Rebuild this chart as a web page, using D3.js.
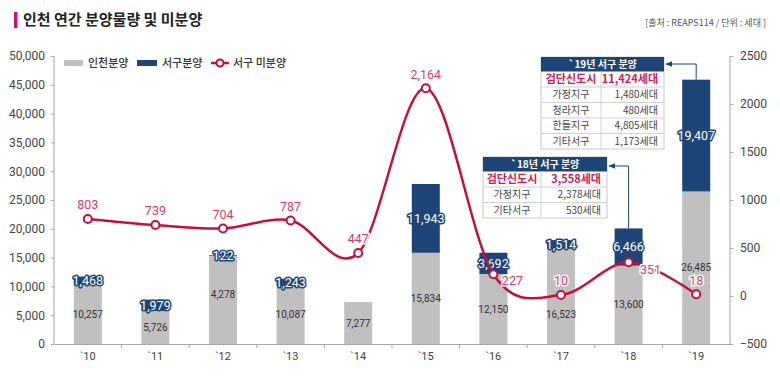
<!DOCTYPE html>
<html><head><meta charset="utf-8">
<script src="https://cdn.jsdelivr.net/npm/d3@7/dist/d3.min.js"></script>
<style>
html,body{margin:0;padding:0;background:#fff;}
svg{display:block;font-family:"Noto Sans CJK KR","Noto Sans",sans-serif;}
</style></head>
<body><svg id="c" width="780" height="376"></svg>
<script>
const years = ["`10","`11","`12","`13","`14","`15","`16","`17","`18","`19"];
const incheon = [10257, 5726, 15278, 10087, 7277, 15834, 12150, 16523, 13600, 26485];
const incheonLabels = ["10,257","5,726","4,278","10,087","7,277","15,834","12,150","16,523","13,600","26,485"];
const seogu = [1468, 1979, 122, 1243, 0, 11943, 3692, 1514, 6466, 19407];
const unsold = [803, 739, 704, 787, 447, 2164, 227, 10, 351, 18];
const leftTicks = [0,5000,10000,15000,20000,25000,30000,35000,40000,45000,50000];
const rightTicks = [-500,0,500,1000,1500,2000,2500];
const table19Title = "`19년 서구 분양";
const table19Rows = [["검단신도시","11,424세대"],["가정지구","1,480세대"],["청라지구","480세대"],["한들지구","4,805세대"],["기타서구","1,173세대"]];
const table18Title = "`18년 서구 분양";
const table18Rows = [["검단신도시","3,558세대"],["가정지구","2,378세대"],["기타서구","530세대"]];

const GRAY="#c0c0c0", NAVY="#1f4578", RED="#c5103c", LRED="#d23c66";
const svg = d3.select("#c");
const L=54, R=730, T=56, B=344;
const x = d3.scaleBand().domain(years).range([L,R]);
const y = d3.scaleLinear().domain([0,50000]).range([B,T]);
const y2 = d3.scaleLinear().domain([-500,2500]).range([B,T]);
const bw = 28;

// title
svg.append("rect").attr("x",14).attr("y",12).attr("width",3.5).attr("height",16).attr("fill","#c7147f");
svg.append("text").attr("x",23).attr("y",25).attr("font-size",15).attr("font-weight","bold").attr("fill","#222").text("인천 연간 분양물량 및 미분양");
svg.append("text").attr("x",766).attr("y",26).attr("text-anchor","end").attr("font-size",9).attr("fill","#555").text("[출처 : REAPS114 / 단위 : 세대 ]");

// axes
const axCol="#a6a6a6";
const gl = svg.append("g").attr("transform",`translate(${L},0)`).call(d3.axisLeft(y).tickValues(leftTicks).tickSize(3).tickFormat(d3.format(",")));
const gr = svg.append("g").attr("transform",`translate(${R},0)`).call(d3.axisRight(y2).tickValues(rightTicks).tickSize(3).tickFormat(d=>d<0?"−"+Math.abs(d):d));
const gb = svg.append("g").attr("transform",`translate(0,${B})`).call(d3.axisBottom(x).tickSize(0).tickPadding(8));
[gl,gr,gb].forEach(g=>{g.selectAll("path").attr("stroke",axCol); g.selectAll("line").attr("stroke",axCol);
  g.selectAll("text").attr("fill","#444").attr("font-size",12).attr("font-family","Roboto, 'Noto Sans', sans-serif");});
gl.select("path").attr("d",`M0,${T}V${B}`);
gr.select("path").attr("d",`M0,${T}V${B}`);
gr.selectAll("text").attr("dx",4);
gl.selectAll("text").attr("dx",-3);
gb.selectAll("text").attr("font-size",11);
// band boundary ticks
svg.append("g").selectAll("line").data(d3.range(1,years.length)).join("line")
  .attr("x1",i=>L+x.step()*i).attr("x2",i=>L+x.step()*i).attr("y1",B).attr("y2",B+4).attr("stroke",axCol);

// bars
const bars = svg.append("g");
years.forEach((yr,i)=>{
  const cx = x(yr)+x.bandwidth()/2;
  bars.append("rect").attr("x",cx-bw/2).attr("width",bw).attr("y",y(incheon[i])).attr("height",y(0)-y(incheon[i])).attr("fill",GRAY);
  if(seogu[i]>0) bars.append("rect").attr("x",cx-bw/2).attr("width",bw).attr("y",y(incheon[i]+seogu[i])).attr("height",y(incheon[i])-y(incheon[i]+seogu[i])).attr("fill",NAVY);
});
// gray labels (small per-label nudges to match the original placement)
const grayNudge = {2:-5, 7:18};
svg.append("g").selectAll("text").data(years).join("text")
  .attr("x",d=>x(d)+x.bandwidth()/2).attr("y",(d,i)=>(y(incheon[i])+y(0))/2+(grayNudge[i]||0)).attr("dy","0.35em")
  .attr("text-anchor","middle").attr("font-size",10).attr("fill","#333").attr("font-family","Roboto, sans-serif")
  .text((d,i)=>incheonLabels[i]);
// navy labels
svg.append("g").selectAll("text").data(years.filter((d,i)=>seogu[i]>0)).join("text")
  .attr("x",d=>x(d)+x.bandwidth()/2)
  .attr("y",d=>{const i=years.indexOf(d); return (y(incheon[i])+y(incheon[i]+seogu[i]))/2;}).attr("dy","0.35em")
  .attr("text-anchor","middle").attr("font-size",12.5).attr("fill","#fff").attr("stroke",NAVY).attr("stroke-width",3)
  .attr("paint-order","stroke").attr("stroke-linejoin","round").attr("font-family","Roboto, sans-serif")
  .text(d=>d3.format(",")(seogu[years.indexOf(d)]));

// line
const pts = years.map((d,i)=>[x(d)+x.bandwidth()/2, y2(unsold[i])]);
svg.append("path").attr("d",d3.line().curve(d3.curveCardinal.tension(0))(pts)).attr("fill","none").attr("stroke",RED).attr("stroke-width",2.5);
svg.append("g").selectAll("circle").data(pts).join("circle").attr("cx",d=>d[0]).attr("cy",d=>d[1]).attr("r",4)
  .attr("fill","#fff").attr("stroke",RED).attr("stroke-width",2);
const off = {6:[19,6],8:[22,7]};
svg.append("g").selectAll("text").data(unsold).join("text")
  .attr("x",(d,i)=>pts[i][0]+(off[i]?off[i][0]:0)).attr("y",(d,i)=>pts[i][1]+(off[i]?off[i][1]:-14)).attr("dy","0.35em")
  .attr("text-anchor","middle").attr("font-size",12.5).attr("fill",LRED).attr("font-family","Roboto, sans-serif")
  .attr("stroke","#fff").attr("stroke-width",3).attr("paint-order","stroke")
  .text(d=>d3.format(",")(d));

// legend
const lg = svg.append("g").attr("font-size",11).attr("fill","#333").attr("font-weight",500);
lg.append("rect").attr("x",64).attr("y",60).attr("width",19).attr("height",6).attr("fill",GRAY);
lg.append("text").attr("x",88).attr("y",67).text("인천분양");
lg.append("rect").attr("x",137).attr("y",60).attr("width",20).attr("height",6).attr("fill",NAVY);
lg.append("text").attr("x",162).attr("y",67).text("서구분양");
lg.append("line").attr("x1",211).attr("x2",229).attr("y1",63).attr("y2",63).attr("stroke",RED).attr("stroke-width",2.5);
lg.append("circle").attr("cx",220).attr("cy",63).attr("r",3.5).attr("fill","#fff").attr("stroke",RED).attr("stroke-width",2);
lg.append("text").attr("x",233).attr("y",67).text("서구 미분양");

// tables
function table(x0, y0, colSplit, w, title, rows){
  const g = svg.append("g");
  const hh=14.5, rh=15.5;
  const h = hh+rh*rows.length;
  g.append("rect").attr("x",x0).attr("y",y0).attr("width",w).attr("height",h).attr("fill","#fff").attr("stroke","#c8c8c8");
  g.append("rect").attr("x",x0).attr("y",y0).attr("width",w).attr("height",hh).attr("fill",NAVY);
  g.append("text").attr("x",x0+w/2).attr("y",y0+hh/2).attr("dy","0.36em").attr("text-anchor","middle").attr("font-size",10).attr("font-weight","bold").attr("fill","#fff").text(title);
  rows.forEach((r,i)=>{
    const ry = y0+hh+rh*i;
    if(i>0) g.append("line").attr("x1",x0).attr("x2",x0+w).attr("y1",ry).attr("y2",ry).attr("stroke","#d0d0d0");
    const first = i===0;
    g.append("text").attr("x",(x0+colSplit)/2).attr("y",ry+rh/2).attr("dy","0.36em").attr("text-anchor","middle")
      .attr("font-size",first?11:10).attr("font-weight",first?"bold":"normal").attr("fill",first?"#d01c55":"#444").text(r[0]);
    g.append("text").attr("x",x0+w-6).attr("y",ry+rh/2).attr("dy","0.36em").attr("text-anchor","end")
      .attr("font-size",first?11:10).attr("font-weight",first?"bold":"normal").attr("fill",first?"#d01c55":"#444").text(r[1]);
  });
  g.append("line").attr("x1",colSplit).attr("x2",colSplit).attr("y1",y0+hh).attr("y2",y0+h).attr("stroke","#d0d0d0");
  return {x0,y0,w,hh};
}
table(541,57,601,123,table19Title,table19Rows);
table(483,157,541,124,table18Title,table18Rows);

// arrows
svg.append("defs").append("marker").attr("id","ah").attr("viewBox","0 0 10 10").attr("refX",9).attr("refY",5)
  .attr("markerWidth",7).attr("markerHeight",7).attr("orient","auto")
  .append("path").attr("d","M0,1L10,5L0,9Z").attr("fill",NAVY);
function arrow(i, hy, tx){
  const cx = x(years[i])+x.bandwidth()/2;
  const top = y(incheon[i]+seogu[i]);
  svg.append("path").attr("d",`M${cx},${top}V${hy}H${tx}`).attr("fill","none").attr("stroke",NAVY).attr("stroke-width",1).attr("marker-end","url(#ah)");
}
arrow(9, 64, 666);
arrow(8, 166, 609);
</script></body></html>
